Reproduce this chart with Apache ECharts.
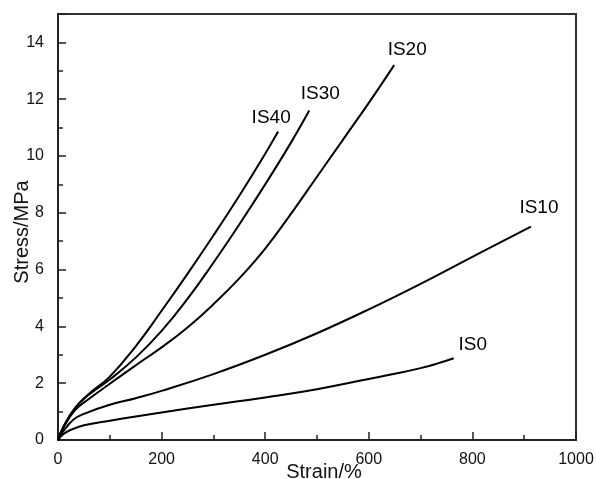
<!DOCTYPE html>
<html>
<head>
<meta charset="utf-8">
<script src="https://cdn.jsdelivr.net/npm/echarts@6/dist/echarts.min.js"></script>
<style>html,body{margin:0;padding:0;background:#fff}#c{width:596px;height:479px}</style>
</head>
<body>
<div id="c"></div>
<script>
const seriesNames = ['IS0', 'IS10', 'IS20', 'IS30', 'IS40'];

const strainIS0 = [0, 10, 25, 50, 100, 150, 200, 300, 400, 500, 600, 650, 700, 730, 764];
const stressIS0 = [0, 0.2, 0.36, 0.52, 0.68, 0.83, 0.97, 1.24, 1.5, 1.79, 2.15, 2.33, 2.53, 2.68, 2.88];

const strainIS10 = [0, 10, 30, 50, 100, 150, 200, 300, 400, 500, 600, 700, 800, 913];
const stressIS10 = [0, 0.3, 0.72, 0.92, 1.24, 1.47, 1.73, 2.32, 3.0, 3.76, 4.6, 5.5, 6.45, 7.51];

const strainIS20 = [0, 10, 33, 60, 100, 150, 200, 250, 300, 350, 400, 450, 500, 550, 600, 649];
const stressIS20 = [0, 0.42, 1.05, 1.45, 1.98, 2.63, 3.26, 3.96, 4.78, 5.69, 6.74, 7.97, 9.27, 10.57, 11.87, 13.2];

const strainIS30 = [0, 10, 33, 60, 100, 150, 200, 250, 300, 350, 400, 450, 485];
const stressIS30 = [0, 0.44, 1.12, 1.6, 2.13, 2.9, 3.84, 4.97, 6.24, 7.59, 9.0, 10.48, 11.6];

const strainIS40 = [0, 10, 33, 60, 100, 150, 200, 250, 300, 350, 400, 425];
const stressIS40 = [0, 0.45, 1.13, 1.63, 2.23, 3.3, 4.55, 5.85, 7.2, 8.6, 10.08, 10.86];

const xTicks = [0, 200, 400, 600, 800, 1000];
const yTicks = [0, 2, 4, 6, 8, 10, 12, 14];

const strains = [strainIS0, strainIS10, strainIS20, strainIS30, strainIS40];
const stresses = [stressIS0, stressIS10, stressIS20, stressIS30, stressIS40];

// label placement relative to each curve end (styling, in pixels)
const labelOffsets = { IS0: [19, -13], IS10: [8, -19], IS20: [13, -15], IS30: [11, -17], IS40: [-7, -14] };

const FONT = "'Liberation Sans', Arial, sans-serif";
const chart = echarts.init(document.getElementById('c'), null, { renderer: 'canvas' });

const lineSeries = seriesNames.map((n, i) => ({
  name: n,
  type: 'line',
  smooth: 0.45,
  showSymbol: false,
  symbol: 'none',
  lineStyle: { color: '#000', width: 2 },
  data: strains[i].map((s, j) => [s, stresses[i][j]]),
  z: 3
}));

const labelSeries = {
  type: 'scatter',
  symbolSize: 0,
  silent: true,
  itemStyle: { opacity: 1 },
  data: seriesNames.map((n, i) => ({
    name: n,
    value: [strains[i][strains[i].length - 1], stresses[i][stresses[i].length - 1]],
    label: { offset: labelOffsets[n] }
  })),
  label: {
    show: true,
    position: 'inside',
    formatter: '{b}',
    fontFamily: FONT,
    fontSize: 19,
    color: '#000',
    opacity: 1,
    align: 'center',
    verticalAlign: 'middle'
  },
  z: 4
};

chart.setOption({
  animation: false,
  backgroundColor: '#fff',
  grid: { left: 58, right: 20, top: 14, bottom: 39, outerBoundsMode: 'none', containLabel: false, show: true, borderColor: '#333', borderWidth: 2, backgroundColor: 'transparent' },
  xAxis: {
    type: 'value',
    min: xTicks[0], max: xTicks[xTicks.length - 1], interval: 200,
    name: 'Strain/%',
    nameLocation: 'middle',
    nameGap: 22,
    nameMoveOverlap: false,
    nameTextStyle: { fontFamily: FONT, fontSize: 20, color: '#111', padding: [0, 0, 0, 14] },
    axisLine: { show: true, lineStyle: { color: '#222', width: 2 } },
    axisTick: { show: true, inside: true, length: 8, lineStyle: { color: '#222', width: 1.5 } },
    minorTick: { show: true, splitNumber: 2, length: 5, lineStyle: { color: '#222', width: 1.5 } },
    axisLabel: {
      fontFamily: FONT, fontSize: 16, color: '#111', margin: 12,
      formatter: v => (xTicks.indexOf(v) >= 0 ? String(v) : '')
    },
    splitLine: { show: false }
  },
  yAxis: {
    type: 'value',
    min: yTicks[0], max: 15, interval: 2,
    name: 'Stress/MPa',
    nameLocation: 'middle',
    nameGap: 26,
    nameMoveOverlap: false,
    nameTextStyle: { fontFamily: FONT, fontSize: 20, color: '#111', padding: [0, 10, 0, 0] },
    axisLine: { show: true, lineStyle: { color: '#222', width: 2 } },
    axisTick: { show: true, inside: true, length: 8, lineStyle: { color: '#222', width: 1.5 } },
    minorTick: { show: true, splitNumber: 2, length: 5, lineStyle: { color: '#222', width: 1.5 } },
    axisLabel: {
      fontFamily: FONT, fontSize: 16, color: '#111', margin: 14,
      formatter: v => (yTicks.indexOf(v) >= 0 ? String(v) : '')
    },
    splitLine: { show: false }
  },
  series: lineSeries.concat([labelSeries])
});
</script>
</body>
</html>
